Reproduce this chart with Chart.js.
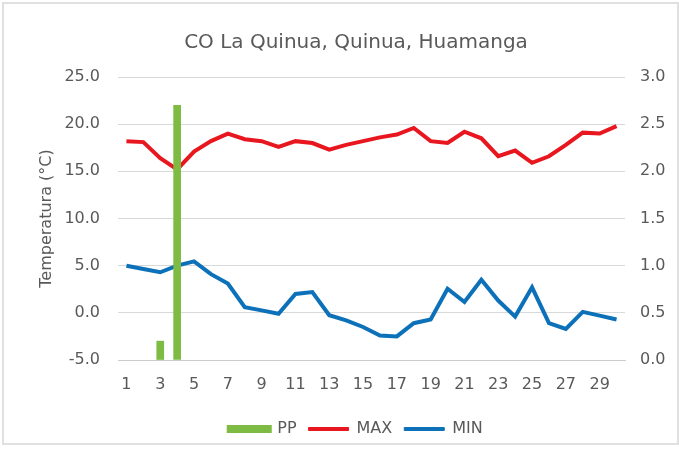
<!DOCTYPE html>
<html>
<head>
<meta charset="utf-8">
<script src="https://cdn.jsdelivr.net/npm/chart.js@4/dist/chart.umd.min.js"></script>
<style>
  html, body { margin: 0; padding: 0; background: #fff; }
  #wrap { position: relative; width: 679px; height: 457px; overflow: hidden; }
  #box { position: absolute; left: 2px; top: 2px; right: 0; bottom: 12px; border: 2px solid #e0e0e0; pointer-events: none; }
</style>
</head>
<body>
<div id="wrap">
  <canvas id="chart" width="679" height="457"></canvas>
  <div id="box"></div>
</div>
<script>
const days = Array.from({ length: 30 }, (_, i) => String(i + 1));
// rain (mm), only days 3 and 4 had any
const pp = [null, null, 0.2, 2.7, null, null, null, null, null, null, null, null, null, null, null, null, null, null, null, null, null, null, null, null, null, null, null, null, null, null];
const tMax = [18.2, 18.1, 16.4, 15.2, 17.1, 18.2, 19.0, 18.4, 18.2, 17.6, 18.2, 18.0, 17.3, 17.8, 18.2, 18.6, 18.9, 19.6, 18.2, 18.0, 19.2, 18.5, 16.6, 17.2, 15.9, 16.6, 17.8, 19.1, 19.0, 19.8];
const tMin = [5.0, 4.65, 4.3, 5.0, 5.45, 4.1, 3.1, 0.6, 0.26, -0.1, 2.0, 2.2, -0.26, -0.8, -1.5, -2.4, -2.5, -1.1, -0.7, 2.55, 1.15, 3.5, 1.3, -0.4, 2.7, -1.1, -1.7, 0.1, -0.3, -0.7];

const txt = "#595959";
const font = "'DejaVu Sans', sans-serif";

new Chart(document.getElementById("chart"), {
  type: "bar",
  data: {
    labels: days,
    datasets: [
      { label: "PP", type: "bar", data: pp, yAxisID: "y2", backgroundColor: "#7dbb42", barThickness: 7, order: 0 },
      { label: "MAX", type: "line", data: tMax, yAxisID: "y", borderColor: "#e8161e", backgroundColor: "#e8161e", borderWidth: 4, pointRadius: 0, tension: 0, order: 1 },
      { label: "MIN", type: "line", data: tMin, yAxisID: "y", borderColor: "#0c71b8", backgroundColor: "#0c71b8", borderWidth: 4, pointRadius: 0, tension: 0, order: 1 },
    ],
  },
  options: {
    responsive: false,
    animation: false,
    layout: { padding: { top: 31, bottom: 10, left: 33, right: 0 } },
    plugins: {
      title: {
        display: true,
        text: "CO La Quinua, Quinua, Huamanga",
        color: txt,
        font: { family: font, size: 20, weight: "normal" },
        padding: { top: 0, bottom: 22 },
      },
      legend: {
        position: "bottom",
        labels: {
          color: txt,
          font: { family: font, size: 16 },
          boxWidth: 40,
          boxHeight: 3,
          padding: 12,
          generateLabels(chart) {
            const items = Chart.defaults.plugins.legend.labels.generateLabels(chart);
            items.forEach((it) => {
              it.strokeStyle = it.fillStyle;
              it.lineWidth = it.datasetIndex === 0 ? 5 : 1;
            });
            return items;
          },
        },
      },
      tooltip: { enabled: false },
    },
    scales: {
      x: {
        grid: { display: false },
        border: { display: true, color: "#cccccc", width: 1 },
        ticks: {
          color: txt, font: { family: font, size: 16 }, autoSkip: false, maxRotation: 0, padding: 7,
          callback: (v, i) => (i % 2 === 0 ? days[i] : ""),
        },
        afterFit: (s) => { s.height = 49; },
      },
      y: {
        position: "left",
        min: -5, max: 25,
        ticks: { stepSize: 5, color: txt, font: { family: font, size: 16 }, padding: 18, callback: (v) => v.toFixed(1) },
        grid: { color: "#d9d9d9", drawTicks: false },
        border: { display: false },
        title: { display: true, text: "Temperatura (°C)", color: txt, font: { family: font, size: 16 } },
        afterFit: (s) => { s.width = 85; },
      },
      y2: {
        position: "right",
        min: 0, max: 3,
        ticks: { stepSize: 0.5, color: txt, font: { family: font, size: 16 }, padding: 15, callback: (v) => v.toFixed(1) },
        grid: { drawOnChartArea: false, drawTicks: false },
        border: { display: false },
        afterFit: (s) => { s.width = 54; },
      },
    },
  },
});
</script>
</body>
</html>
